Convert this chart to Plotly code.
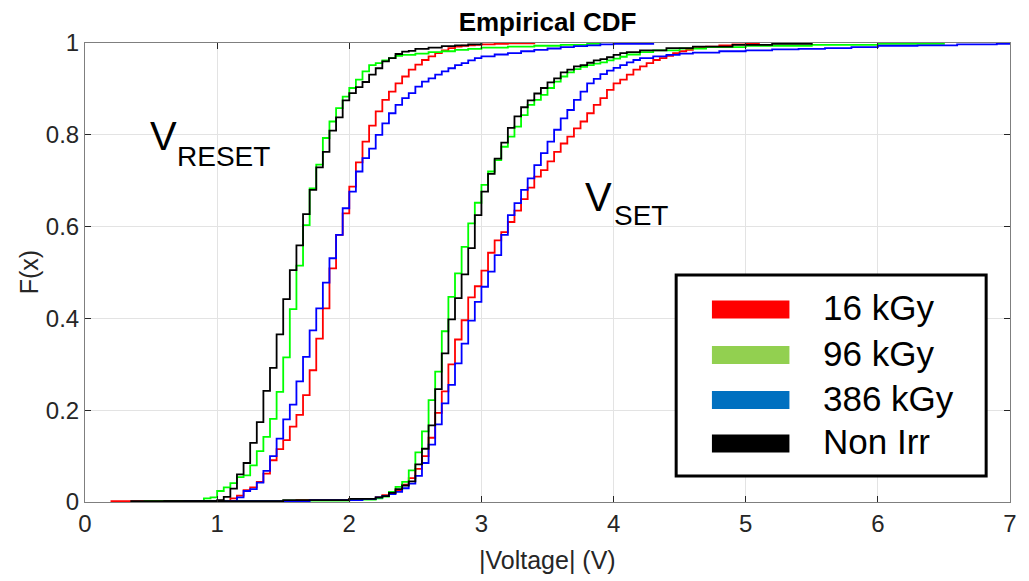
import plotly.graph_objects as go

# ---------------- data (|Voltage| in V, empirical CDF values) ----------------
reset_16_v = [0.20, 1.10, 1.15, 1.20, 1.25, 1.30, 1.35, 1.40, 1.45, 1.50, 1.55, 1.60, 1.65, 1.70, 1.75,
              1.80, 1.85, 1.90, 1.95, 2.00, 2.05, 2.10, 2.15, 2.20, 2.25, 2.30, 2.35, 2.40, 2.45, 2.50,
              2.55, 2.60, 2.65, 2.70, 2.75, 2.80, 2.85, 2.90, 2.95, 3.00, 3.10, 3.20, 3.40]
reset_16_f = [0.002, 0.008, 0.014, 0.026, 0.032, 0.044, 0.062, 0.091, 0.115, 0.135, 0.164, 0.190, 0.233,
              0.287, 0.356, 0.422, 0.509, 0.582, 0.629, 0.687, 0.740, 0.785, 0.820, 0.851, 0.876, 0.894,
              0.912, 0.927, 0.942, 0.953, 0.963, 0.971, 0.978, 0.984, 0.989, 0.992, 0.994, 0.995, 0.996,
              0.997, 0.998, 0.999, 1.0]

reset_96_v = [0.45, 0.90, 0.95, 1.00, 1.05, 1.10, 1.15, 1.20, 1.25, 1.30, 1.35, 1.40, 1.45, 1.50, 1.55,
              1.60, 1.65, 1.70, 1.75, 1.80, 1.85, 1.90, 1.95, 2.00, 2.05, 2.10, 2.15, 2.20, 2.25, 2.30,
              2.35, 2.40, 2.50, 2.60, 2.70, 2.80, 2.90, 3.00, 3.20, 3.40, 3.60, 3.80, 3.90]
reset_96_f = [0.002, 0.008, 0.010, 0.024, 0.032, 0.041, 0.054, 0.058, 0.080, 0.111, 0.142, 0.181, 0.240,
              0.315, 0.420, 0.515, 0.603, 0.683, 0.735, 0.793, 0.829, 0.858, 0.883, 0.902, 0.920, 0.938,
              0.952, 0.956, 0.962, 0.967, 0.972, 0.974, 0.977, 0.980, 0.982, 0.985, 0.987, 0.990, 0.992,
              0.994, 0.996, 0.998, 1.0]

reset_386_v = [0.75, 1.15, 1.20, 1.25, 1.30, 1.35, 1.40, 1.45, 1.50, 1.55, 1.60, 1.65, 1.70, 1.75, 1.80,
               1.85, 1.90, 1.95, 2.00, 2.05, 2.10, 2.15, 2.20, 2.25, 2.30, 2.35, 2.40, 2.45, 2.50, 2.55,
               2.60, 2.65, 2.70, 2.75, 2.80, 2.85, 2.90, 2.95, 3.00, 3.10, 3.20, 3.30, 3.40, 3.50, 3.60,
               3.70, 3.80, 3.90, 4.00, 4.30]
reset_386_f = [0.002, 0.010, 0.024, 0.028, 0.042, 0.068, 0.100, 0.138, 0.180, 0.212, 0.263, 0.316, 0.374,
               0.422, 0.478, 0.531, 0.582, 0.640, 0.676, 0.720, 0.749, 0.770, 0.800, 0.825, 0.847, 0.865,
               0.880, 0.891, 0.905, 0.916, 0.923, 0.931, 0.938, 0.945, 0.952, 0.956, 0.962, 0.967, 0.971,
               0.975, 0.978, 0.982, 0.985, 0.988, 0.991, 0.993, 0.995, 0.997, 0.998, 1.0]

reset_non_v = [0.35, 1.00, 1.05, 1.10, 1.15, 1.20, 1.25, 1.30, 1.35, 1.40, 1.45, 1.50, 1.55, 1.60, 1.65,
               1.70, 1.75, 1.80, 1.85, 1.90, 1.95, 2.00, 2.05, 2.10, 2.15, 2.20, 2.25, 2.30, 2.35, 2.40,
               2.45, 2.50, 2.60, 2.70, 2.80, 2.90, 3.00]
reset_non_f = [0.002, 0.004, 0.011, 0.029, 0.060, 0.085, 0.129, 0.174, 0.242, 0.292, 0.365, 0.442, 0.505,
               0.559, 0.627, 0.680, 0.729, 0.763, 0.809, 0.838, 0.875, 0.891, 0.904, 0.915, 0.931, 0.945,
               0.960, 0.967, 0.976, 0.981, 0.983, 0.987, 0.990, 0.993, 0.995, 0.997, 1.0]

set_16_v = [1.00, 1.60, 2.00, 2.20, 2.25, 2.30, 2.35, 2.40, 2.45, 2.50, 2.55, 2.60, 2.65, 2.70, 2.75, 2.80,
            2.85, 2.90, 2.95, 3.00, 3.05, 3.10, 3.15, 3.20, 3.25, 3.30, 3.35, 3.40, 3.45, 3.50, 3.55, 3.60,
            3.65, 3.70, 3.75, 3.80, 3.85, 3.90, 3.95, 4.00, 4.05, 4.10, 4.15, 4.20, 4.25, 4.30, 4.35, 4.40,
            4.45, 4.50, 4.55, 4.60, 4.65, 4.70, 4.80, 4.90, 5.00, 5.10]
set_16_f = [0.002, 0.004, 0.007, 0.010, 0.015, 0.020, 0.026, 0.038, 0.052, 0.072, 0.100, 0.140, 0.194,
            0.241, 0.300, 0.354, 0.396, 0.446, 0.470, 0.504, 0.543, 0.570, 0.588, 0.610, 0.635, 0.660,
            0.685, 0.709, 0.723, 0.742, 0.763, 0.781, 0.796, 0.814, 0.829, 0.847, 0.865, 0.880, 0.898,
            0.912, 0.920, 0.931, 0.942, 0.949, 0.956, 0.963, 0.967, 0.972, 0.978, 0.982, 0.985, 0.989,
            0.991, 0.992, 0.995, 0.997, 0.998, 1.0]

set_96_v = [0.90, 1.50, 2.00, 2.20, 2.25, 2.30, 2.35, 2.40, 2.45, 2.50, 2.55, 2.60, 2.65, 2.70, 2.75, 2.80,
            2.85, 2.90, 2.95, 3.00, 3.05, 3.10, 3.15, 3.20, 3.25, 3.30, 3.35, 3.40, 3.45, 3.50, 3.55, 3.60,
            3.65, 3.70, 3.75, 3.80, 3.85, 3.90, 3.95, 4.00, 4.05, 4.10, 4.20, 4.30, 4.50, 4.70, 5.00, 5.50,
            6.00, 6.50]
set_96_f = [0.002, 0.003, 0.005, 0.008, 0.012, 0.022, 0.033, 0.044, 0.069, 0.108, 0.154, 0.222, 0.284,
            0.372, 0.447, 0.498, 0.556, 0.607, 0.652, 0.691, 0.720, 0.745, 0.774, 0.796, 0.818, 0.843,
            0.865, 0.876, 0.887, 0.902, 0.916, 0.927, 0.936, 0.943, 0.948, 0.952, 0.955, 0.958, 0.962,
            0.966, 0.970, 0.975, 0.980, 0.984, 0.988, 0.991, 0.994, 0.996, 0.998, 1.0]

set_386_v = [1.10, 1.70, 2.10, 2.20, 2.25, 2.30, 2.35, 2.40, 2.45, 2.50, 2.55, 2.60, 2.65, 2.70, 2.75,
             2.80, 2.85, 2.90, 2.95, 3.00, 3.05, 3.10, 3.15, 3.20, 3.25, 3.30, 3.35, 3.40, 3.45, 3.50,
             3.55, 3.60, 3.65, 3.70, 3.75, 3.80, 3.85, 3.90, 3.95, 4.00, 4.05, 4.10, 4.15, 4.20, 4.30,
             4.40, 4.50, 4.60, 4.80, 5.00, 5.20, 5.40, 5.60, 5.80, 6.00, 6.30, 6.60, 6.90, 7.00]
set_386_f = [0.002, 0.004, 0.007, 0.010, 0.013, 0.017, 0.022, 0.030, 0.040, 0.057, 0.085, 0.125, 0.169,
             0.215, 0.255, 0.302, 0.345, 0.395, 0.436, 0.469, 0.502, 0.538, 0.582, 0.625, 0.651, 0.680,
             0.705, 0.734, 0.760, 0.785, 0.811, 0.836, 0.854, 0.876, 0.894, 0.912, 0.922, 0.932, 0.940,
             0.946, 0.952, 0.958, 0.963, 0.967, 0.971, 0.974, 0.977, 0.979, 0.982, 0.984, 0.986, 0.987,
             0.989, 0.991, 0.994, 0.995, 0.997, 0.998, 1.0]

set_non_v = [0.60, 1.50, 2.00, 2.20, 2.25, 2.30, 2.35, 2.40, 2.45, 2.50, 2.55, 2.60, 2.65, 2.70, 2.75,
             2.80, 2.85, 2.90, 2.95, 3.00, 3.05, 3.10, 3.15, 3.20, 3.25, 3.30, 3.35, 3.40, 3.45, 3.50,
             3.55, 3.60, 3.65, 3.70, 3.75, 3.80, 3.85, 3.90, 3.95, 4.00, 4.05, 4.10, 4.20, 4.40, 4.60,
             4.90, 5.20, 5.50]
set_non_f = [0.002, 0.004, 0.007, 0.010, 0.013, 0.020, 0.028, 0.036, 0.045, 0.082, 0.116, 0.167, 0.246,
             0.324, 0.398, 0.444, 0.496, 0.553, 0.625, 0.676, 0.715, 0.748, 0.783, 0.815, 0.840, 0.860,
             0.875, 0.890, 0.902, 0.914, 0.923, 0.936, 0.942, 0.949, 0.952, 0.957, 0.962, 0.965, 0.969,
             0.974, 0.978, 0.980, 0.984, 0.989, 0.992, 0.996, 0.998, 1.0]

legend_labels = ["16 kGy", "96 kGy", "386 kGy", "Non Irr"]
legend_colors = ["#FF0000", "#92D050", "#0070C0", "#000000"]
line_colors = {"16 kGy": "#FF0000", "96 kGy": "#00FF00", "386 kGy": "#0000FF", "Non Irr": "#000000"}

x_ticks = [0, 1, 2, 3, 4, 5, 6, 7]
y_ticks = [0, 0.2, 0.4, 0.6, 0.8, 1]
y_tick_text = ["0", "0.2", "0.4", "0.6", "0.8", "1"]

FONT = "Liberation Sans, Arial, sans-serif"

series = [
    ("16 kGy", reset_16_v, reset_16_f, set_16_v, set_16_f),
    ("96 kGy", reset_96_v, reset_96_f, set_96_v, set_96_f),
    ("386 kGy", reset_386_v, reset_386_f, set_386_v, set_386_f),
    ("Non Irr", reset_non_v, reset_non_f, set_non_v, set_non_f),
]

fig = go.Figure()
for name, rv, rf, sv, sf in series:
    for v, f, grp in ((rv, rf, "RESET"), (sv, sf, "SET")):
        fig.add_trace(go.Scatter(
            x=[v[0]] + list(v), y=[0.0] + list(f),
            mode="lines", line=dict(color=line_colors[name], width=1.8, shape="hv"),
            name=f"{name} {grp}", showlegend=False, hoverinfo="skip"))

axis_common = dict(
    showline=True, linecolor="#7f7f7f", linewidth=1, mirror="allticks",
    ticks="inside", ticklen=6, tickcolor="#262626", tickwidth=1,
    showgrid=True, gridcolor="#e3e3e3", gridwidth=1, zeroline=False,
    tickfont=dict(family=FONT, size=24, color="#262626"),
)
fig.update_xaxes(range=[0, 7], tickvals=x_ticks, **axis_common)
fig.update_yaxes(range=[0, 1], tickvals=y_ticks, ticktext=y_tick_text, **axis_common)

W, H = 1029, 581
L, R, T, B = 85, 13, 43, 79
pw, ph = W - L - R, H - T - B


def px2paper(px, py):
    return (px - L) / pw, (H - B - py) / ph


annotations = []
# axis titles
ax_x, ax_y = px2paper(550, 560)
annotations.append(dict(text="|Voltage| (V)", x=ax_x, y=ax_y, xref="paper", yref="paper",
                        showarrow=False, xanchor="center", yanchor="middle",
                        font=dict(family=FONT, size=25, color="#262626")))
ay_x, ay_y = px2paper(29, 272)
annotations.append(dict(text="F(x)", x=ay_x, y=ay_y, xref="paper", yref="paper", textangle=-90,
                        showarrow=False, xanchor="center", yanchor="middle",
                        font=dict(family=FONT, size=25, color="#262626")))

# V_RESET and V_SET labels
for main_px, main_py, sub, sub_px, sub_py in ((148, 136, "RESET", 176, 156), (586, 197, "SET", 615, 216)):
    mx, my = px2paper(main_px, main_py)
    sx, sy = px2paper(sub_px, sub_py)
    annotations.append(dict(text="V", x=mx, y=my, xref="paper", yref="paper", showarrow=False,
                            xanchor="left", yanchor="middle",
                            font=dict(family=FONT, size=40, color="#000000")))
    annotations.append(dict(text=sub, x=sx, y=sy, xref="paper", yref="paper", showarrow=False,
                            xanchor="left", yanchor="middle",
                            font=dict(family=FONT, size=28, color="#000000")))

# custom legend box
shapes = []
bx0, by0 = px2paper(680, 476)
bx1, by1 = px2paper(992, 275)
shapes.append(dict(type="rect", xref="paper", yref="paper", x0=bx0, y0=by0, x1=bx1, y1=by1,
                   line=dict(color="#000000", width=3), fillcolor="#FFFFFF", layer="above"))
centers = [309.5, 355, 400, 443.5]
for lab, col, cy in zip(legend_labels, legend_colors, centers):
    sx0, sy0 = px2paper(716, cy + 9)
    sx1, sy1 = px2paper(794, cy - 9)
    shapes.append(dict(type="rect", xref="paper", yref="paper", x0=sx0, y0=sy0, x1=sx1, y1=sy1,
                       line=dict(width=0), fillcolor=col, layer="above"))
    tx, ty = px2paper(826, cy - 2)
    annotations.append(dict(text=lab, x=tx, y=ty, xref="paper", yref="paper", showarrow=False,
                            xanchor="left", yanchor="middle",
                            font=dict(family=FONT, size=35, color="#000000")))

fig.update_layout(
    width=W, height=H,
    margin=dict(l=L, r=R, t=T, b=B),
    paper_bgcolor="#FFFFFF", plot_bgcolor="#FFFFFF",
    title=dict(text="<b>Empirical CDF</b>", x=0.5, xref="paper", xanchor="center",
               y=1 - 21.5 / H, yref="container", yanchor="middle",
               font=dict(family=FONT, size=26, color="#000000")),
    annotations=annotations, shapes=shapes, showlegend=False,
)

fig.write_html("out.html")
